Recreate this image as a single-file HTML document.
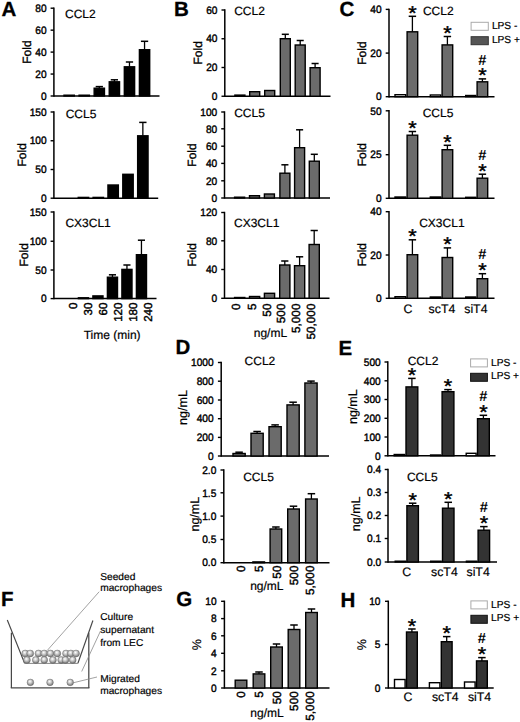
<!DOCTYPE html>
<html><head><meta charset="utf-8"><title>Figure</title>
<style>html,body{margin:0;padding:0;background:#fff;} body{width:520px;height:722px;overflow:hidden;font-family:"Liberation Sans", sans-serif;} svg{display:block;}</style>
</head><body>
<svg width="520" height="722" viewBox="0 0 520 722" font-family='"Liberation Sans", sans-serif' text-rendering="geometricPrecision"><defs><radialGradient id="sp" cx="0.45" cy="0.4" r="0.6" fx="0.42" fy="0.34"><stop offset="0" stop-color="#ffffff"/><stop offset="0.4" stop-color="#d0d0d0"/><stop offset="0.85" stop-color="#8a8a8a"/><stop offset="1" stop-color="#666"/></radialGradient></defs>
<text transform="translate(1.40 16.30)" font-size="20.5" text-anchor="start" font-weight="bold" fill="#000" stroke="#000" stroke-width="0.3">A</text>
<text transform="translate(174.10 16.30)" font-size="20.5" text-anchor="start" font-weight="bold" fill="#000" stroke="#000" stroke-width="0.3">B</text>
<text transform="translate(339.50 16.30)" font-size="20.5" text-anchor="start" font-weight="bold" fill="#000" stroke="#000" stroke-width="0.3">C</text>
<text transform="translate(175.50 353.80)" font-size="20.5" text-anchor="start" font-weight="bold" fill="#000" stroke="#000" stroke-width="0.3">D</text>
<text transform="translate(338.60 354.60)" font-size="20.5" text-anchor="start" font-weight="bold" fill="#000" stroke="#000" stroke-width="0.3">E</text>
<text transform="translate(0.90 605.80)" font-size="20.5" text-anchor="start" font-weight="bold" fill="#000" stroke="#000" stroke-width="0.3">F</text>
<text transform="translate(176.20 606.20)" font-size="20.5" text-anchor="start" font-weight="bold" fill="#000" stroke="#000" stroke-width="0.3">G</text>
<text transform="translate(340.60 607.00)" font-size="20.5" text-anchor="start" font-weight="bold" fill="#000" stroke="#000" stroke-width="0.3">H</text>
<line x1="53.90" y1="7.50" x2="53.90" y2="96.70" stroke="#000" stroke-width="1.5"/>
<line x1="50.60" y1="96.00" x2="53.90" y2="96.00" stroke="#000" stroke-width="1.4"/>
<text transform="translate(46.60 99.70) scale(0.94 1.0)" font-size="10.8" text-anchor="end" fill="#000" stroke="#000" stroke-width="0.4">0</text>
<line x1="50.60" y1="74.05" x2="53.90" y2="74.05" stroke="#000" stroke-width="1.4"/>
<text transform="translate(46.60 77.75) scale(0.94 1.0)" font-size="10.8" text-anchor="end" fill="#000" stroke="#000" stroke-width="0.4">20</text>
<line x1="50.60" y1="52.10" x2="53.90" y2="52.10" stroke="#000" stroke-width="1.4"/>
<text transform="translate(46.60 55.80) scale(0.94 1.0)" font-size="10.8" text-anchor="end" fill="#000" stroke="#000" stroke-width="0.4">40</text>
<line x1="50.60" y1="30.15" x2="53.90" y2="30.15" stroke="#000" stroke-width="1.4"/>
<text transform="translate(46.60 33.85) scale(0.94 1.0)" font-size="10.8" text-anchor="end" fill="#000" stroke="#000" stroke-width="0.4">60</text>
<line x1="50.60" y1="8.20" x2="53.90" y2="8.20" stroke="#000" stroke-width="1.4"/>
<text transform="translate(46.60 11.90) scale(0.94 1.0)" font-size="10.8" text-anchor="end" fill="#000" stroke="#000" stroke-width="0.4">80</text>
<line x1="53.90" y1="96.00" x2="159.50" y2="96.00" stroke="#000" stroke-width="1.5"/>
<rect x="64.00" y="95.20" width="10.30" height="0.80" fill="#000" stroke="#000" stroke-width="1.4"/>
<rect x="79.08" y="95.20" width="10.30" height="0.80" fill="#000" stroke="#000" stroke-width="1.4"/>
<line x1="99.31" y1="86.60" x2="99.31" y2="88.20" stroke="#000" stroke-width="1.3"/>
<line x1="95.68" y1="86.60" x2="102.94" y2="86.60" stroke="#000" stroke-width="1.5"/>
<rect x="94.16" y="88.20" width="10.30" height="7.80" fill="#000" stroke="#000" stroke-width="1.4"/>
<line x1="114.39" y1="79.80" x2="114.39" y2="81.80" stroke="#000" stroke-width="1.3"/>
<line x1="110.76" y1="79.80" x2="118.02" y2="79.80" stroke="#000" stroke-width="1.5"/>
<rect x="109.24" y="81.80" width="10.30" height="14.20" fill="#000" stroke="#000" stroke-width="1.4"/>
<line x1="129.47" y1="62.00" x2="129.47" y2="66.80" stroke="#000" stroke-width="1.3"/>
<line x1="125.84" y1="62.00" x2="133.10" y2="62.00" stroke="#000" stroke-width="1.5"/>
<rect x="124.32" y="66.80" width="10.30" height="29.20" fill="#000" stroke="#000" stroke-width="1.4"/>
<line x1="144.55" y1="41.30" x2="144.55" y2="49.70" stroke="#000" stroke-width="1.3"/>
<line x1="140.92" y1="41.30" x2="148.18" y2="41.30" stroke="#000" stroke-width="1.5"/>
<rect x="139.40" y="49.70" width="10.30" height="46.30" fill="#000" stroke="#000" stroke-width="1.4"/>
<text transform="translate(65.00 17.70)" font-size="12" text-anchor="start" fill="#000" stroke="#000" stroke-width="0.2">CCL2</text>
<text transform="translate(31.20 52.10) rotate(-90)" font-size="12" text-anchor="middle" fill="#000" stroke="#000" stroke-width="0.35">Fold</text>
<line x1="53.90" y1="111.30" x2="53.90" y2="198.90" stroke="#000" stroke-width="1.5"/>
<line x1="50.60" y1="198.20" x2="53.90" y2="198.20" stroke="#000" stroke-width="1.4"/>
<text transform="translate(46.60 201.90) scale(0.94 1.0)" font-size="10.8" text-anchor="end" fill="#000" stroke="#000" stroke-width="0.4">0</text>
<line x1="50.60" y1="169.50" x2="53.90" y2="169.50" stroke="#000" stroke-width="1.4"/>
<text transform="translate(46.60 173.20) scale(0.94 1.0)" font-size="10.8" text-anchor="end" fill="#000" stroke="#000" stroke-width="0.4">50</text>
<line x1="50.60" y1="140.75" x2="53.90" y2="140.75" stroke="#000" stroke-width="1.4"/>
<text transform="translate(46.60 144.45) scale(0.94 1.0)" font-size="10.8" text-anchor="end" fill="#000" stroke="#000" stroke-width="0.4">100</text>
<line x1="50.60" y1="112.00" x2="53.90" y2="112.00" stroke="#000" stroke-width="1.4"/>
<text transform="translate(46.60 115.70) scale(0.94 1.0)" font-size="10.8" text-anchor="end" fill="#000" stroke="#000" stroke-width="0.4">150</text>
<line x1="53.90" y1="198.20" x2="158.20" y2="198.20" stroke="#000" stroke-width="1.5"/>
<rect x="78.25" y="197.40" width="10.40" height="0.80" fill="#000" stroke="#000" stroke-width="1.4"/>
<rect x="93.10" y="197.40" width="10.40" height="0.80" fill="#000" stroke="#000" stroke-width="1.4"/>
<rect x="107.95" y="185.00" width="10.40" height="13.20" fill="#000" stroke="#000" stroke-width="1.4"/>
<rect x="122.80" y="174.30" width="10.40" height="23.90" fill="#000" stroke="#000" stroke-width="1.4"/>
<line x1="142.85" y1="122.40" x2="142.85" y2="135.80" stroke="#000" stroke-width="1.3"/>
<line x1="139.19" y1="122.40" x2="146.51" y2="122.40" stroke="#000" stroke-width="1.5"/>
<rect x="137.65" y="135.80" width="10.40" height="62.40" fill="#000" stroke="#000" stroke-width="1.4"/>
<text transform="translate(65.70 117.60)" font-size="12" text-anchor="start" fill="#000" stroke="#000" stroke-width="0.2">CCL5</text>
<text transform="translate(26.20 154.80) rotate(-90)" font-size="12" text-anchor="middle" fill="#000" stroke="#000" stroke-width="0.35">Fold</text>
<line x1="53.90" y1="211.30" x2="53.90" y2="299.30" stroke="#000" stroke-width="1.5"/>
<line x1="50.60" y1="298.60" x2="53.90" y2="298.60" stroke="#000" stroke-width="1.4"/>
<text transform="translate(46.60 302.30) scale(0.94 1.0)" font-size="10.8" text-anchor="end" fill="#000" stroke="#000" stroke-width="0.4">0</text>
<line x1="50.60" y1="270.00" x2="53.90" y2="270.00" stroke="#000" stroke-width="1.4"/>
<text transform="translate(46.60 273.70) scale(0.94 1.0)" font-size="10.8" text-anchor="end" fill="#000" stroke="#000" stroke-width="0.4">50</text>
<line x1="50.60" y1="241.25" x2="53.90" y2="241.25" stroke="#000" stroke-width="1.4"/>
<text transform="translate(46.60 244.95) scale(0.94 1.0)" font-size="10.8" text-anchor="end" fill="#000" stroke="#000" stroke-width="0.4">100</text>
<line x1="50.60" y1="212.00" x2="53.90" y2="212.00" stroke="#000" stroke-width="1.4"/>
<text transform="translate(46.60 215.70) scale(0.94 1.0)" font-size="10.8" text-anchor="end" fill="#000" stroke="#000" stroke-width="0.4">150</text>
<line x1="53.90" y1="298.60" x2="156.50" y2="298.60" stroke="#000" stroke-width="1.5"/>
<rect x="78.40" y="297.80" width="10.10" height="0.80" fill="#000" stroke="#000" stroke-width="1.4"/>
<rect x="92.90" y="295.90" width="10.10" height="2.70" fill="#000" stroke="#000" stroke-width="1.4"/>
<line x1="112.45" y1="274.80" x2="112.45" y2="277.20" stroke="#000" stroke-width="1.3"/>
<line x1="108.89" y1="274.80" x2="116.02" y2="274.80" stroke="#000" stroke-width="1.5"/>
<rect x="107.40" y="277.20" width="10.10" height="21.40" fill="#000" stroke="#000" stroke-width="1.4"/>
<line x1="126.95" y1="265.00" x2="126.95" y2="269.40" stroke="#000" stroke-width="1.3"/>
<line x1="123.38" y1="265.00" x2="130.51" y2="265.00" stroke="#000" stroke-width="1.5"/>
<rect x="121.90" y="269.40" width="10.10" height="29.20" fill="#000" stroke="#000" stroke-width="1.4"/>
<line x1="141.45" y1="240.20" x2="141.45" y2="254.70" stroke="#000" stroke-width="1.3"/>
<line x1="137.88" y1="240.20" x2="145.01" y2="240.20" stroke="#000" stroke-width="1.5"/>
<rect x="136.40" y="254.70" width="10.10" height="43.90" fill="#000" stroke="#000" stroke-width="1.4"/>
<text transform="translate(65.40 226.80)" font-size="12" text-anchor="start" fill="#000" stroke="#000" stroke-width="0.2">CX3CL1</text>
<text transform="translate(27.80 254.80) rotate(-90)" font-size="12" text-anchor="middle" fill="#000" stroke="#000" stroke-width="0.35">Fold</text>
<text transform="translate(77.28 302.60) rotate(-90)" font-size="11.5" text-anchor="end" fill="#000" stroke="#000" stroke-width="0.4">0</text>
<text transform="translate(92.18 302.60) rotate(-90)" font-size="11.5" text-anchor="end" fill="#000" stroke="#000" stroke-width="0.4">30</text>
<text transform="translate(107.08 302.60) rotate(-90)" font-size="11.5" text-anchor="end" fill="#000" stroke="#000" stroke-width="0.4">60</text>
<text transform="translate(121.98 302.60) rotate(-90)" font-size="11.5" text-anchor="end" fill="#000" stroke="#000" stroke-width="0.4">120</text>
<text transform="translate(136.88 302.60) rotate(-90)" font-size="11.5" text-anchor="end" fill="#000" stroke="#000" stroke-width="0.4">180</text>
<text transform="translate(151.78 302.60) rotate(-90)" font-size="11.5" text-anchor="end" fill="#000" stroke="#000" stroke-width="0.4">240</text>
<text transform="translate(112.10 338.50)" font-size="12" text-anchor="middle" fill="#000" stroke="#000" stroke-width="0.2">Time (min)</text>
<line x1="224.80" y1="9.30" x2="224.80" y2="96.95" stroke="#000" stroke-width="1.5"/>
<line x1="221.50" y1="96.25" x2="224.80" y2="96.25" stroke="#000" stroke-width="1.4"/>
<text transform="translate(217.50 99.95) scale(0.94 1.0)" font-size="10.8" text-anchor="end" fill="#000" stroke="#000" stroke-width="0.4">0</text>
<line x1="221.50" y1="67.50" x2="224.80" y2="67.50" stroke="#000" stroke-width="1.4"/>
<text transform="translate(217.50 71.20) scale(0.94 1.0)" font-size="10.8" text-anchor="end" fill="#000" stroke="#000" stroke-width="0.4">20</text>
<line x1="221.50" y1="38.75" x2="224.80" y2="38.75" stroke="#000" stroke-width="1.4"/>
<text transform="translate(217.50 42.45) scale(0.94 1.0)" font-size="10.8" text-anchor="end" fill="#000" stroke="#000" stroke-width="0.4">40</text>
<line x1="221.50" y1="10.00" x2="224.80" y2="10.00" stroke="#000" stroke-width="1.4"/>
<text transform="translate(217.50 13.70) scale(0.94 1.0)" font-size="10.8" text-anchor="end" fill="#000" stroke="#000" stroke-width="0.4">60</text>
<line x1="224.80" y1="96.25" x2="330.50" y2="96.25" stroke="#000" stroke-width="1.5"/>
<rect x="234.90" y="95.10" width="10.00" height="1.15" fill="#6b6b6b" stroke="#000" stroke-width="1.4"/>
<rect x="249.70" y="91.70" width="10.00" height="4.55" fill="#6b6b6b" stroke="#000" stroke-width="1.4"/>
<rect x="264.70" y="90.50" width="10.00" height="5.75" fill="#6b6b6b" stroke="#000" stroke-width="1.4"/>
<line x1="285.30" y1="34.30" x2="285.30" y2="38.70" stroke="#000" stroke-width="1.3"/>
<line x1="281.77" y1="34.30" x2="288.83" y2="34.30" stroke="#000" stroke-width="1.5"/>
<rect x="280.30" y="38.70" width="10.00" height="57.55" fill="#6b6b6b" stroke="#000" stroke-width="1.4"/>
<line x1="300.20" y1="40.50" x2="300.20" y2="45.00" stroke="#000" stroke-width="1.3"/>
<line x1="296.67" y1="40.50" x2="303.73" y2="40.50" stroke="#000" stroke-width="1.5"/>
<rect x="295.20" y="45.00" width="10.00" height="51.25" fill="#6b6b6b" stroke="#000" stroke-width="1.4"/>
<line x1="315.10" y1="63.50" x2="315.10" y2="67.70" stroke="#000" stroke-width="1.3"/>
<line x1="311.57" y1="63.50" x2="318.63" y2="63.50" stroke="#000" stroke-width="1.5"/>
<rect x="310.10" y="67.70" width="10.00" height="28.55" fill="#6b6b6b" stroke="#000" stroke-width="1.4"/>
<text transform="translate(234.20 15.00)" font-size="12" text-anchor="start" fill="#000" stroke="#000" stroke-width="0.2">CCL2</text>
<text transform="translate(202.20 52.85) rotate(-90)" font-size="12" text-anchor="middle" fill="#000" stroke="#000" stroke-width="0.35">Fold</text>
<line x1="224.50" y1="111.30" x2="224.50" y2="198.70" stroke="#000" stroke-width="1.5"/>
<line x1="221.20" y1="198.00" x2="224.50" y2="198.00" stroke="#000" stroke-width="1.4"/>
<text transform="translate(217.20 201.70) scale(0.94 1.0)" font-size="10.8" text-anchor="end" fill="#000" stroke="#000" stroke-width="0.4">0</text>
<line x1="221.20" y1="180.80" x2="224.50" y2="180.80" stroke="#000" stroke-width="1.4"/>
<text transform="translate(217.20 184.50) scale(0.94 1.0)" font-size="10.8" text-anchor="end" fill="#000" stroke="#000" stroke-width="0.4">20</text>
<line x1="221.20" y1="163.40" x2="224.50" y2="163.40" stroke="#000" stroke-width="1.4"/>
<text transform="translate(217.20 167.10) scale(0.94 1.0)" font-size="10.8" text-anchor="end" fill="#000" stroke="#000" stroke-width="0.4">40</text>
<line x1="221.20" y1="146.20" x2="224.50" y2="146.20" stroke="#000" stroke-width="1.4"/>
<text transform="translate(217.20 149.90) scale(0.94 1.0)" font-size="10.8" text-anchor="end" fill="#000" stroke="#000" stroke-width="0.4">60</text>
<line x1="221.20" y1="128.80" x2="224.50" y2="128.80" stroke="#000" stroke-width="1.4"/>
<text transform="translate(217.20 132.50) scale(0.94 1.0)" font-size="10.8" text-anchor="end" fill="#000" stroke="#000" stroke-width="0.4">80</text>
<line x1="221.20" y1="112.00" x2="224.50" y2="112.00" stroke="#000" stroke-width="1.4"/>
<text transform="translate(217.20 115.70) scale(0.94 1.0)" font-size="10.8" text-anchor="end" fill="#000" stroke="#000" stroke-width="0.4">100</text>
<line x1="224.50" y1="198.00" x2="330.00" y2="198.00" stroke="#000" stroke-width="1.5"/>
<rect x="234.60" y="197.20" width="10.00" height="0.80" fill="#6b6b6b" stroke="#000" stroke-width="1.4"/>
<rect x="249.50" y="195.70" width="10.00" height="2.30" fill="#6b6b6b" stroke="#000" stroke-width="1.4"/>
<rect x="264.40" y="194.00" width="10.00" height="4.00" fill="#6b6b6b" stroke="#000" stroke-width="1.4"/>
<line x1="284.90" y1="164.80" x2="284.90" y2="173.20" stroke="#000" stroke-width="1.3"/>
<line x1="281.37" y1="164.80" x2="288.43" y2="164.80" stroke="#000" stroke-width="1.5"/>
<rect x="279.90" y="173.20" width="10.00" height="24.80" fill="#6b6b6b" stroke="#000" stroke-width="1.4"/>
<line x1="299.60" y1="129.80" x2="299.60" y2="147.70" stroke="#000" stroke-width="1.3"/>
<line x1="296.07" y1="129.80" x2="303.13" y2="129.80" stroke="#000" stroke-width="1.5"/>
<rect x="294.60" y="147.70" width="10.00" height="50.30" fill="#6b6b6b" stroke="#000" stroke-width="1.4"/>
<line x1="314.30" y1="154.30" x2="314.30" y2="161.20" stroke="#000" stroke-width="1.3"/>
<line x1="310.77" y1="154.30" x2="317.83" y2="154.30" stroke="#000" stroke-width="1.5"/>
<rect x="309.30" y="161.20" width="10.00" height="36.80" fill="#6b6b6b" stroke="#000" stroke-width="1.4"/>
<text transform="translate(234.20 116.80)" font-size="12" text-anchor="start" fill="#000" stroke="#000" stroke-width="0.2">CCL5</text>
<text transform="translate(196.30 155.00) rotate(-90)" font-size="12" text-anchor="middle" fill="#000" stroke="#000" stroke-width="0.35">Fold</text>
<line x1="224.50" y1="211.80" x2="224.50" y2="299.00" stroke="#000" stroke-width="1.5"/>
<line x1="221.20" y1="298.30" x2="224.50" y2="298.30" stroke="#000" stroke-width="1.4"/>
<text transform="translate(217.20 302.00) scale(0.94 1.0)" font-size="10.8" text-anchor="end" fill="#000" stroke="#000" stroke-width="0.4">0</text>
<line x1="221.20" y1="269.50" x2="224.50" y2="269.50" stroke="#000" stroke-width="1.4"/>
<text transform="translate(217.20 273.20) scale(0.94 1.0)" font-size="10.8" text-anchor="end" fill="#000" stroke="#000" stroke-width="0.4">40</text>
<line x1="221.20" y1="240.80" x2="224.50" y2="240.80" stroke="#000" stroke-width="1.4"/>
<text transform="translate(217.20 244.50) scale(0.94 1.0)" font-size="10.8" text-anchor="end" fill="#000" stroke="#000" stroke-width="0.4">80</text>
<line x1="221.20" y1="212.50" x2="224.50" y2="212.50" stroke="#000" stroke-width="1.4"/>
<text transform="translate(217.20 216.20) scale(0.94 1.0)" font-size="10.8" text-anchor="end" fill="#000" stroke="#000" stroke-width="0.4">120</text>
<line x1="224.50" y1="298.30" x2="329.50" y2="298.30" stroke="#000" stroke-width="1.5"/>
<rect x="234.60" y="297.50" width="10.20" height="0.80" fill="#6b6b6b" stroke="#000" stroke-width="1.4"/>
<rect x="249.50" y="296.50" width="10.20" height="1.80" fill="#6b6b6b" stroke="#000" stroke-width="1.4"/>
<rect x="264.40" y="293.30" width="10.20" height="5.00" fill="#6b6b6b" stroke="#000" stroke-width="1.4"/>
<line x1="284.80" y1="261.00" x2="284.80" y2="265.00" stroke="#000" stroke-width="1.3"/>
<line x1="281.20" y1="261.00" x2="288.40" y2="261.00" stroke="#000" stroke-width="1.5"/>
<rect x="279.70" y="265.00" width="10.20" height="33.30" fill="#6b6b6b" stroke="#000" stroke-width="1.4"/>
<line x1="299.60" y1="256.80" x2="299.60" y2="265.70" stroke="#000" stroke-width="1.3"/>
<line x1="296.00" y1="256.80" x2="303.20" y2="256.80" stroke="#000" stroke-width="1.5"/>
<rect x="294.50" y="265.70" width="10.20" height="32.60" fill="#6b6b6b" stroke="#000" stroke-width="1.4"/>
<line x1="314.20" y1="230.50" x2="314.20" y2="244.50" stroke="#000" stroke-width="1.3"/>
<line x1="310.60" y1="230.50" x2="317.80" y2="230.50" stroke="#000" stroke-width="1.5"/>
<rect x="309.10" y="244.50" width="10.20" height="53.80" fill="#6b6b6b" stroke="#000" stroke-width="1.4"/>
<text transform="translate(234.00 226.80)" font-size="12" text-anchor="start" fill="#000" stroke="#000" stroke-width="0.2">CX3CL1</text>
<text transform="translate(196.30 254.85) rotate(-90)" font-size="12" text-anchor="middle" fill="#000" stroke="#000" stroke-width="0.35">Fold</text>
<text transform="translate(240.43 303.50) rotate(-90)" font-size="11.8" text-anchor="end" fill="#000" stroke="#000" stroke-width="0.4">0</text>
<text transform="translate(255.73 303.50) rotate(-90)" font-size="11.8" text-anchor="end" fill="#000" stroke="#000" stroke-width="0.4">5</text>
<text transform="translate(270.63 303.50) rotate(-90)" font-size="11.8" text-anchor="end" fill="#000" stroke="#000" stroke-width="0.4">50</text>
<text transform="translate(285.33 303.50) rotate(-90)" font-size="11.8" text-anchor="end" fill="#000" stroke="#000" stroke-width="0.4">500</text>
<text transform="translate(300.33 303.50) rotate(-90)" font-size="11.8" text-anchor="end" fill="#000" stroke="#000" stroke-width="0.4">5,000</text>
<text transform="translate(315.43 303.50) rotate(-90)" font-size="11.8" text-anchor="end" fill="#000" stroke="#000" stroke-width="0.4">50,000</text>
<text transform="translate(270.40 336.50)" font-size="12" text-anchor="middle" fill="#000" stroke="#000" stroke-width="0.2">ng/mL</text>
<line x1="389.00" y1="8.70" x2="389.00" y2="97.40" stroke="#000" stroke-width="1.5"/>
<line x1="385.70" y1="96.70" x2="389.00" y2="96.70" stroke="#000" stroke-width="1.4"/>
<text transform="translate(381.55 100.40) scale(0.94 1.0)" font-size="10.8" text-anchor="end" fill="#000" stroke="#000" stroke-width="0.4">0</text>
<line x1="385.70" y1="53.10" x2="389.00" y2="53.10" stroke="#000" stroke-width="1.4"/>
<text transform="translate(381.55 56.80) scale(0.94 1.0)" font-size="10.8" text-anchor="end" fill="#000" stroke="#000" stroke-width="0.4">20</text>
<line x1="385.70" y1="9.40" x2="389.00" y2="9.40" stroke="#000" stroke-width="1.4"/>
<text transform="translate(381.55 13.10) scale(0.94 1.0)" font-size="10.8" text-anchor="end" fill="#000" stroke="#000" stroke-width="0.4">40</text>
<line x1="389.00" y1="96.70" x2="494.50" y2="96.70" stroke="#000" stroke-width="1.5"/>
<rect x="395.00" y="94.70" width="10.70" height="2.00" fill="#fff" stroke="#000" stroke-width="1.4"/>
<line x1="412.40" y1="16.30" x2="412.40" y2="31.80" stroke="#000" stroke-width="1.3"/>
<line x1="408.68" y1="16.30" x2="416.12" y2="16.30" stroke="#000" stroke-width="1.5"/>
<rect x="407.10" y="31.80" width="10.60" height="64.90" fill="#6b6b6b" stroke="#000" stroke-width="1.4"/>
<text transform="translate(412.40 19.80) scale(1.08 1.0)" font-size="20" text-anchor="middle" fill="#000" stroke="#000" stroke-width="0.4">*</text>
<rect x="430.30" y="95.00" width="10.40" height="1.70" fill="#fff" stroke="#000" stroke-width="1.4"/>
<line x1="447.40" y1="36.50" x2="447.40" y2="44.90" stroke="#000" stroke-width="1.3"/>
<line x1="443.68" y1="36.50" x2="451.12" y2="36.50" stroke="#000" stroke-width="1.5"/>
<rect x="442.10" y="44.90" width="10.60" height="51.80" fill="#6b6b6b" stroke="#000" stroke-width="1.4"/>
<text transform="translate(447.40 40.00) scale(1.08 1.0)" font-size="20" text-anchor="middle" fill="#000" stroke="#000" stroke-width="0.4">*</text>
<rect x="465.70" y="95.50" width="10.00" height="1.20" fill="#fff" stroke="#000" stroke-width="1.4"/>
<line x1="482.40" y1="78.90" x2="482.40" y2="81.80" stroke="#000" stroke-width="1.3"/>
<line x1="478.68" y1="78.90" x2="486.12" y2="78.90" stroke="#000" stroke-width="1.5"/>
<rect x="477.10" y="81.80" width="10.60" height="14.90" fill="#6b6b6b" stroke="#000" stroke-width="1.4"/>
<text transform="translate(482.40 82.40) scale(1.08 1.0)" font-size="20" text-anchor="middle" fill="#000" stroke="#000" stroke-width="0.4">*</text>
<text transform="translate(482.30 64.60)" font-size="14.6" text-anchor="middle" font-weight="bold" fill="#000">#</text>
<text transform="translate(422.90 15.00)" font-size="12" text-anchor="start" fill="#000" stroke="#000" stroke-width="0.2">CCL2</text>
<text transform="translate(365.90 53.10) rotate(-90)" font-size="12" text-anchor="middle" fill="#000" stroke="#000" stroke-width="0.35">Fold</text>
<rect x="471.10" y="22.30" width="17.20" height="8.00" fill="#fff" stroke="#aaa" stroke-width="1.0"/>
<rect x="471.10" y="36.70" width="17.20" height="8.00" fill="#555" stroke="#333" stroke-width="1.0"/>
<text transform="translate(491.90 29.40)" font-size="10.2" text-anchor="start" fill="#000" stroke="#000" stroke-width="0.2">LPS -</text>
<text transform="translate(491.90 42.80)" font-size="10.2" text-anchor="start" fill="#000" stroke="#000" stroke-width="0.2">LPS +</text>
<line x1="389.00" y1="110.10" x2="389.00" y2="199.00" stroke="#000" stroke-width="1.5"/>
<line x1="385.70" y1="198.30" x2="389.00" y2="198.30" stroke="#000" stroke-width="1.4"/>
<text transform="translate(381.55 202.00) scale(0.94 1.0)" font-size="10.8" text-anchor="end" fill="#000" stroke="#000" stroke-width="0.4">0</text>
<line x1="385.70" y1="154.70" x2="389.00" y2="154.70" stroke="#000" stroke-width="1.4"/>
<text transform="translate(381.55 158.40) scale(0.94 1.0)" font-size="10.8" text-anchor="end" fill="#000" stroke="#000" stroke-width="0.4">25</text>
<line x1="385.70" y1="110.80" x2="389.00" y2="110.80" stroke="#000" stroke-width="1.4"/>
<text transform="translate(381.55 114.50) scale(0.94 1.0)" font-size="10.8" text-anchor="end" fill="#000" stroke="#000" stroke-width="0.4">50</text>
<line x1="389.00" y1="198.30" x2="494.50" y2="198.30" stroke="#000" stroke-width="1.5"/>
<rect x="395.00" y="197.00" width="10.70" height="1.30" fill="#fff" stroke="#000" stroke-width="1.4"/>
<line x1="412.40" y1="131.50" x2="412.40" y2="135.20" stroke="#000" stroke-width="1.3"/>
<line x1="408.68" y1="131.50" x2="416.12" y2="131.50" stroke="#000" stroke-width="1.5"/>
<rect x="407.10" y="135.20" width="10.60" height="63.10" fill="#6b6b6b" stroke="#000" stroke-width="1.4"/>
<text transform="translate(412.40 135.00) scale(1.08 1.0)" font-size="20" text-anchor="middle" fill="#000" stroke="#000" stroke-width="0.4">*</text>
<rect x="430.30" y="197.00" width="10.40" height="1.30" fill="#fff" stroke="#000" stroke-width="1.4"/>
<line x1="447.40" y1="145.30" x2="447.40" y2="149.70" stroke="#000" stroke-width="1.3"/>
<line x1="443.68" y1="145.30" x2="451.12" y2="145.30" stroke="#000" stroke-width="1.5"/>
<rect x="442.10" y="149.70" width="10.60" height="48.60" fill="#6b6b6b" stroke="#000" stroke-width="1.4"/>
<text transform="translate(447.40 148.80) scale(1.08 1.0)" font-size="20" text-anchor="middle" fill="#000" stroke="#000" stroke-width="0.4">*</text>
<rect x="465.70" y="197.30" width="10.00" height="1.00" fill="#fff" stroke="#000" stroke-width="1.4"/>
<line x1="482.40" y1="174.20" x2="482.40" y2="178.20" stroke="#000" stroke-width="1.3"/>
<line x1="478.68" y1="174.20" x2="486.12" y2="174.20" stroke="#000" stroke-width="1.5"/>
<rect x="477.10" y="178.20" width="10.60" height="20.10" fill="#6b6b6b" stroke="#000" stroke-width="1.4"/>
<text transform="translate(482.40 177.70) scale(1.08 1.0)" font-size="20" text-anchor="middle" fill="#000" stroke="#000" stroke-width="0.4">*</text>
<text transform="translate(482.30 159.90)" font-size="14.6" text-anchor="middle" font-weight="bold" fill="#000">#</text>
<text transform="translate(422.70 117.40)" font-size="12" text-anchor="start" fill="#000" stroke="#000" stroke-width="0.2">CCL5</text>
<text transform="translate(365.90 154.70) rotate(-90)" font-size="12" text-anchor="middle" fill="#000" stroke="#000" stroke-width="0.35">Fold</text>
<line x1="389.00" y1="211.00" x2="389.00" y2="299.00" stroke="#000" stroke-width="1.5"/>
<line x1="385.70" y1="298.30" x2="389.00" y2="298.30" stroke="#000" stroke-width="1.4"/>
<text transform="translate(381.55 302.00) scale(0.94 1.0)" font-size="10.8" text-anchor="end" fill="#000" stroke="#000" stroke-width="0.4">0</text>
<line x1="385.70" y1="255.00" x2="389.00" y2="255.00" stroke="#000" stroke-width="1.4"/>
<text transform="translate(381.55 258.70) scale(0.94 1.0)" font-size="10.8" text-anchor="end" fill="#000" stroke="#000" stroke-width="0.4">20</text>
<line x1="385.70" y1="211.70" x2="389.00" y2="211.70" stroke="#000" stroke-width="1.4"/>
<text transform="translate(381.55 215.40) scale(0.94 1.0)" font-size="10.8" text-anchor="end" fill="#000" stroke="#000" stroke-width="0.4">40</text>
<line x1="389.00" y1="298.30" x2="494.50" y2="298.30" stroke="#000" stroke-width="1.5"/>
<rect x="395.00" y="296.70" width="10.70" height="1.60" fill="#fff" stroke="#000" stroke-width="1.4"/>
<line x1="412.40" y1="239.80" x2="412.40" y2="254.70" stroke="#000" stroke-width="1.3"/>
<line x1="408.68" y1="239.80" x2="416.12" y2="239.80" stroke="#000" stroke-width="1.5"/>
<rect x="407.10" y="254.70" width="10.60" height="43.60" fill="#6b6b6b" stroke="#000" stroke-width="1.4"/>
<text transform="translate(412.40 243.30) scale(1.08 1.0)" font-size="20" text-anchor="middle" fill="#000" stroke="#000" stroke-width="0.4">*</text>
<rect x="430.30" y="297.00" width="10.40" height="1.30" fill="#fff" stroke="#000" stroke-width="1.4"/>
<line x1="447.40" y1="247.90" x2="447.40" y2="257.50" stroke="#000" stroke-width="1.3"/>
<line x1="443.68" y1="247.90" x2="451.12" y2="247.90" stroke="#000" stroke-width="1.5"/>
<rect x="442.10" y="257.50" width="10.60" height="40.80" fill="#6b6b6b" stroke="#000" stroke-width="1.4"/>
<text transform="translate(447.40 251.40) scale(1.08 1.0)" font-size="20" text-anchor="middle" fill="#000" stroke="#000" stroke-width="0.4">*</text>
<rect x="465.70" y="297.00" width="10.00" height="1.30" fill="#fff" stroke="#000" stroke-width="1.4"/>
<line x1="482.40" y1="273.70" x2="482.40" y2="278.70" stroke="#000" stroke-width="1.3"/>
<line x1="478.68" y1="273.70" x2="486.12" y2="273.70" stroke="#000" stroke-width="1.5"/>
<rect x="477.10" y="278.70" width="10.60" height="19.60" fill="#6b6b6b" stroke="#000" stroke-width="1.4"/>
<text transform="translate(482.40 277.20) scale(1.08 1.0)" font-size="20" text-anchor="middle" fill="#000" stroke="#000" stroke-width="0.4">*</text>
<text transform="translate(482.30 259.40)" font-size="14.6" text-anchor="middle" font-weight="bold" fill="#000">#</text>
<text transform="translate(419.20 226.80)" font-size="12" text-anchor="start" fill="#000" stroke="#000" stroke-width="0.2">CX3CL1</text>
<text transform="translate(365.90 254.70) rotate(-90)" font-size="12" text-anchor="middle" fill="#000" stroke="#000" stroke-width="0.35">Fold</text>
<text transform="translate(408.00 312.80)" font-size="12.3" text-anchor="middle" fill="#000" stroke="#000" stroke-width="0.2">C</text>
<text transform="translate(441.95 312.80)" font-size="12.3" text-anchor="middle" fill="#000" stroke="#000" stroke-width="0.2">scT4</text>
<text transform="translate(475.85 312.80)" font-size="12.3" text-anchor="middle" fill="#000" stroke="#000" stroke-width="0.2">siT4</text>
<line x1="221.20" y1="361.80" x2="221.20" y2="456.70" stroke="#000" stroke-width="1.5"/>
<line x1="217.90" y1="456.00" x2="221.20" y2="456.00" stroke="#000" stroke-width="1.4"/>
<text transform="translate(213.60 459.70) scale(0.94 1.0)" font-size="10.8" text-anchor="end" fill="#000" stroke="#000" stroke-width="0.4">0</text>
<line x1="217.90" y1="437.40" x2="221.20" y2="437.40" stroke="#000" stroke-width="1.4"/>
<text transform="translate(213.60 441.10) scale(0.94 1.0)" font-size="10.8" text-anchor="end" fill="#000" stroke="#000" stroke-width="0.4">200</text>
<line x1="217.90" y1="418.70" x2="221.20" y2="418.70" stroke="#000" stroke-width="1.4"/>
<text transform="translate(213.60 422.40) scale(0.94 1.0)" font-size="10.8" text-anchor="end" fill="#000" stroke="#000" stroke-width="0.4">400</text>
<line x1="217.90" y1="400.00" x2="221.20" y2="400.00" stroke="#000" stroke-width="1.4"/>
<text transform="translate(213.60 403.70) scale(0.94 1.0)" font-size="10.8" text-anchor="end" fill="#000" stroke="#000" stroke-width="0.4">600</text>
<line x1="217.90" y1="381.20" x2="221.20" y2="381.20" stroke="#000" stroke-width="1.4"/>
<text transform="translate(213.60 384.90) scale(0.94 1.0)" font-size="10.8" text-anchor="end" fill="#000" stroke="#000" stroke-width="0.4">800</text>
<line x1="217.90" y1="362.50" x2="221.20" y2="362.50" stroke="#000" stroke-width="1.4"/>
<text transform="translate(213.60 366.20) scale(0.94 1.0)" font-size="10.8" text-anchor="end" fill="#000" stroke="#000" stroke-width="0.4">1000</text>
<line x1="221.20" y1="456.00" x2="329.00" y2="456.00" stroke="#000" stroke-width="1.5"/>
<line x1="239.10" y1="452.20" x2="239.10" y2="453.50" stroke="#000" stroke-width="1.3"/>
<line x1="235.35" y1="452.20" x2="242.85" y2="452.20" stroke="#000" stroke-width="1.5"/>
<rect x="233.00" y="453.50" width="12.20" height="2.50" fill="#6b6b6b" stroke="#000" stroke-width="1.4"/>
<line x1="257.10" y1="431.50" x2="257.10" y2="433.30" stroke="#000" stroke-width="1.3"/>
<line x1="253.35" y1="431.50" x2="260.85" y2="431.50" stroke="#000" stroke-width="1.5"/>
<rect x="251.00" y="433.30" width="12.20" height="22.70" fill="#6b6b6b" stroke="#000" stroke-width="1.4"/>
<line x1="275.10" y1="424.90" x2="275.10" y2="426.70" stroke="#000" stroke-width="1.3"/>
<line x1="271.35" y1="424.90" x2="278.85" y2="424.90" stroke="#000" stroke-width="1.5"/>
<rect x="269.00" y="426.70" width="12.20" height="29.30" fill="#6b6b6b" stroke="#000" stroke-width="1.4"/>
<line x1="293.10" y1="402.20" x2="293.10" y2="404.90" stroke="#000" stroke-width="1.3"/>
<line x1="289.35" y1="402.20" x2="296.85" y2="402.20" stroke="#000" stroke-width="1.5"/>
<rect x="287.00" y="404.90" width="12.20" height="51.10" fill="#6b6b6b" stroke="#000" stroke-width="1.4"/>
<line x1="311.00" y1="381.10" x2="311.00" y2="383.00" stroke="#000" stroke-width="1.3"/>
<line x1="307.25" y1="381.10" x2="314.75" y2="381.10" stroke="#000" stroke-width="1.5"/>
<rect x="304.90" y="383.00" width="12.20" height="73.00" fill="#6b6b6b" stroke="#000" stroke-width="1.4"/>
<text transform="translate(244.60 364.80)" font-size="12" text-anchor="start" fill="#000" stroke="#000" stroke-width="0.2">CCL2</text>
<text transform="translate(187.30 407.50) rotate(-90)" font-size="12.5" text-anchor="middle" fill="#000" stroke="#000" stroke-width="0.2">ng/mL</text>
<line x1="223.80" y1="469.30" x2="223.80" y2="563.40" stroke="#000" stroke-width="1.5"/>
<line x1="220.50" y1="562.70" x2="223.80" y2="562.70" stroke="#000" stroke-width="1.4"/>
<text transform="translate(216.30 566.40) scale(0.94 1.0)" font-size="10.8" text-anchor="end" fill="#000" stroke="#000" stroke-width="0.4">0.0</text>
<line x1="220.50" y1="539.50" x2="223.80" y2="539.50" stroke="#000" stroke-width="1.4"/>
<text transform="translate(216.30 543.20) scale(0.94 1.0)" font-size="10.8" text-anchor="end" fill="#000" stroke="#000" stroke-width="0.4">0.5</text>
<line x1="220.50" y1="516.10" x2="223.80" y2="516.10" stroke="#000" stroke-width="1.4"/>
<text transform="translate(216.30 519.80) scale(0.94 1.0)" font-size="10.8" text-anchor="end" fill="#000" stroke="#000" stroke-width="0.4">1.0</text>
<line x1="220.50" y1="492.80" x2="223.80" y2="492.80" stroke="#000" stroke-width="1.4"/>
<text transform="translate(216.30 496.50) scale(0.94 1.0)" font-size="10.8" text-anchor="end" fill="#000" stroke="#000" stroke-width="0.4">1.5</text>
<line x1="220.50" y1="470.00" x2="223.80" y2="470.00" stroke="#000" stroke-width="1.4"/>
<text transform="translate(216.30 473.70) scale(0.94 1.0)" font-size="10.8" text-anchor="end" fill="#000" stroke="#000" stroke-width="0.4">2.0</text>
<line x1="223.80" y1="562.70" x2="329.50" y2="562.70" stroke="#000" stroke-width="1.5"/>
<rect x="252.90" y="561.90" width="11.60" height="0.80" fill="#6b6b6b" stroke="#000" stroke-width="1.4"/>
<line x1="275.90" y1="527.00" x2="275.90" y2="529.00" stroke="#000" stroke-width="1.3"/>
<line x1="272.15" y1="527.00" x2="279.65" y2="527.00" stroke="#000" stroke-width="1.5"/>
<rect x="270.10" y="529.00" width="11.60" height="33.70" fill="#6b6b6b" stroke="#000" stroke-width="1.4"/>
<line x1="293.50" y1="506.20" x2="293.50" y2="509.00" stroke="#000" stroke-width="1.3"/>
<line x1="289.75" y1="506.20" x2="297.25" y2="506.20" stroke="#000" stroke-width="1.5"/>
<rect x="287.70" y="509.00" width="11.60" height="53.70" fill="#6b6b6b" stroke="#000" stroke-width="1.4"/>
<line x1="311.40" y1="493.70" x2="311.40" y2="499.00" stroke="#000" stroke-width="1.3"/>
<line x1="307.65" y1="493.70" x2="315.15" y2="493.70" stroke="#000" stroke-width="1.5"/>
<rect x="305.60" y="499.00" width="11.60" height="63.70" fill="#6b6b6b" stroke="#000" stroke-width="1.4"/>
<text transform="translate(243.20 480.80)" font-size="12" text-anchor="start" fill="#000" stroke="#000" stroke-width="0.2">CCL5</text>
<text transform="translate(198.60 514.20) rotate(-90)" font-size="12.5" text-anchor="middle" fill="#000" stroke="#000" stroke-width="0.2">ng/mL</text>
<text transform="translate(244.53 565.50) rotate(-90)" font-size="11.8" text-anchor="end" fill="#000" stroke="#000" stroke-width="0.4">0</text>
<text transform="translate(263.23 565.50) rotate(-90)" font-size="11.8" text-anchor="end" fill="#000" stroke="#000" stroke-width="0.4">5</text>
<text transform="translate(281.13 565.50) rotate(-90)" font-size="11.8" text-anchor="end" fill="#000" stroke="#000" stroke-width="0.4">50</text>
<text transform="translate(297.73 565.50) rotate(-90)" font-size="11.8" text-anchor="end" fill="#000" stroke="#000" stroke-width="0.4">500</text>
<text transform="translate(314.43 565.50) rotate(-90)" font-size="11.8" text-anchor="end" fill="#000" stroke="#000" stroke-width="0.4">5,000</text>
<text transform="translate(266.80 590.40)" font-size="12" text-anchor="middle" fill="#000" stroke="#000" stroke-width="0.2">ng/mL</text>
<line x1="387.80" y1="361.30" x2="387.80" y2="456.50" stroke="#000" stroke-width="1.5"/>
<line x1="384.50" y1="455.80" x2="387.80" y2="455.80" stroke="#000" stroke-width="1.4"/>
<text transform="translate(380.70 459.50) scale(0.94 1.0)" font-size="10.8" text-anchor="end" fill="#000" stroke="#000" stroke-width="0.4">0</text>
<line x1="384.50" y1="437.00" x2="387.80" y2="437.00" stroke="#000" stroke-width="1.4"/>
<text transform="translate(380.70 440.70) scale(0.94 1.0)" font-size="10.8" text-anchor="end" fill="#000" stroke="#000" stroke-width="0.4">100</text>
<line x1="384.50" y1="418.30" x2="387.80" y2="418.30" stroke="#000" stroke-width="1.4"/>
<text transform="translate(380.70 422.00) scale(0.94 1.0)" font-size="10.8" text-anchor="end" fill="#000" stroke="#000" stroke-width="0.4">200</text>
<line x1="384.50" y1="399.50" x2="387.80" y2="399.50" stroke="#000" stroke-width="1.4"/>
<text transform="translate(380.70 403.20) scale(0.94 1.0)" font-size="10.8" text-anchor="end" fill="#000" stroke="#000" stroke-width="0.4">300</text>
<line x1="384.50" y1="380.80" x2="387.80" y2="380.80" stroke="#000" stroke-width="1.4"/>
<text transform="translate(380.70 384.50) scale(0.94 1.0)" font-size="10.8" text-anchor="end" fill="#000" stroke="#000" stroke-width="0.4">400</text>
<line x1="384.50" y1="362.00" x2="387.80" y2="362.00" stroke="#000" stroke-width="1.4"/>
<text transform="translate(380.70 365.70) scale(0.94 1.0)" font-size="10.8" text-anchor="end" fill="#000" stroke="#000" stroke-width="0.4">500</text>
<line x1="387.80" y1="455.80" x2="495.50" y2="455.80" stroke="#000" stroke-width="1.5"/>
<rect x="394.20" y="454.50" width="10.40" height="1.30" fill="#fff" stroke="#000" stroke-width="1.4"/>
<line x1="411.90" y1="378.40" x2="411.90" y2="386.90" stroke="#000" stroke-width="1.3"/>
<line x1="408.15" y1="378.40" x2="415.65" y2="378.40" stroke="#000" stroke-width="1.5"/>
<rect x="406.00" y="386.90" width="11.80" height="68.90" fill="#333" stroke="#000" stroke-width="1.4"/>
<text transform="translate(411.90 381.90) scale(1.08 1.0)" font-size="20" text-anchor="middle" fill="#000" stroke="#000" stroke-width="0.4">*</text>
<rect x="430.60" y="455.00" width="10.10" height="0.80" fill="#fff" stroke="#000" stroke-width="1.4"/>
<line x1="448.00" y1="389.60" x2="448.00" y2="391.70" stroke="#000" stroke-width="1.3"/>
<line x1="444.25" y1="389.60" x2="451.75" y2="389.60" stroke="#000" stroke-width="1.5"/>
<rect x="442.10" y="391.70" width="11.80" height="64.10" fill="#333" stroke="#000" stroke-width="1.4"/>
<text transform="translate(448.00 393.10) scale(1.08 1.0)" font-size="20" text-anchor="middle" fill="#000" stroke="#000" stroke-width="0.4">*</text>
<rect x="466.20" y="453.30" width="9.90" height="2.50" fill="#fff" stroke="#000" stroke-width="1.4"/>
<line x1="483.40" y1="415.30" x2="483.40" y2="418.70" stroke="#000" stroke-width="1.3"/>
<line x1="479.65" y1="415.30" x2="487.15" y2="415.30" stroke="#000" stroke-width="1.5"/>
<rect x="477.50" y="418.70" width="11.80" height="37.10" fill="#333" stroke="#000" stroke-width="1.4"/>
<text transform="translate(483.40 418.80) scale(1.08 1.0)" font-size="20" text-anchor="middle" fill="#000" stroke="#000" stroke-width="0.4">*</text>
<text transform="translate(483.30 401.00)" font-size="14.6" text-anchor="middle" font-weight="bold" fill="#000">#</text>
<text transform="translate(407.70 364.60)" font-size="12" text-anchor="start" fill="#000" stroke="#000" stroke-width="0.2">CCL2</text>
<text transform="translate(357.30 406.70) rotate(-90)" font-size="12.5" text-anchor="middle" fill="#000" stroke="#000" stroke-width="0.2">ng/mL</text>
<rect x="470.60" y="358.90" width="16.80" height="8.00" fill="#fff" stroke="#aaa" stroke-width="1.0"/>
<rect x="470.60" y="373.30" width="16.80" height="8.00" fill="#333" stroke="#111" stroke-width="1.0"/>
<text transform="translate(491.00 366.00)" font-size="10.2" text-anchor="start" fill="#000" stroke="#000" stroke-width="0.2">LPS -</text>
<text transform="translate(491.00 379.40)" font-size="10.2" text-anchor="start" fill="#000" stroke="#000" stroke-width="0.2">LPS +</text>
<line x1="388.00" y1="468.80" x2="388.00" y2="562.70" stroke="#000" stroke-width="1.5"/>
<line x1="384.70" y1="562.00" x2="388.00" y2="562.00" stroke="#000" stroke-width="1.4"/>
<text transform="translate(381.20 565.70) scale(0.94 1.0)" font-size="10.8" text-anchor="end" fill="#000" stroke="#000" stroke-width="0.4">0.0</text>
<line x1="384.70" y1="538.50" x2="388.00" y2="538.50" stroke="#000" stroke-width="1.4"/>
<text transform="translate(381.20 542.20) scale(0.94 1.0)" font-size="10.8" text-anchor="end" fill="#000" stroke="#000" stroke-width="0.4">0.1</text>
<line x1="384.70" y1="515.50" x2="388.00" y2="515.50" stroke="#000" stroke-width="1.4"/>
<text transform="translate(381.20 519.20) scale(0.94 1.0)" font-size="10.8" text-anchor="end" fill="#000" stroke="#000" stroke-width="0.4">0.2</text>
<line x1="384.70" y1="492.50" x2="388.00" y2="492.50" stroke="#000" stroke-width="1.4"/>
<text transform="translate(381.20 496.20) scale(0.94 1.0)" font-size="10.8" text-anchor="end" fill="#000" stroke="#000" stroke-width="0.4">0.3</text>
<line x1="384.70" y1="469.50" x2="388.00" y2="469.50" stroke="#000" stroke-width="1.4"/>
<text transform="translate(381.20 473.20) scale(0.94 1.0)" font-size="10.8" text-anchor="end" fill="#000" stroke="#000" stroke-width="0.4">0.4</text>
<line x1="388.00" y1="562.00" x2="497.00" y2="562.00" stroke="#000" stroke-width="1.5"/>
<rect x="395.20" y="561.20" width="10.30" height="0.80" fill="#fff" stroke="#000" stroke-width="1.4"/>
<line x1="412.65" y1="503.20" x2="412.65" y2="505.70" stroke="#000" stroke-width="1.3"/>
<line x1="408.90" y1="503.20" x2="416.40" y2="503.20" stroke="#000" stroke-width="1.5"/>
<rect x="406.90" y="505.70" width="11.50" height="56.30" fill="#333" stroke="#000" stroke-width="1.4"/>
<text transform="translate(412.65 506.70) scale(1.08 1.0)" font-size="20" text-anchor="middle" fill="#000" stroke="#000" stroke-width="0.4">*</text>
<rect x="430.70" y="561.20" width="10.40" height="0.80" fill="#fff" stroke="#000" stroke-width="1.4"/>
<line x1="448.25" y1="502.30" x2="448.25" y2="508.20" stroke="#000" stroke-width="1.3"/>
<line x1="444.50" y1="502.30" x2="452.00" y2="502.30" stroke="#000" stroke-width="1.5"/>
<rect x="442.50" y="508.20" width="11.50" height="53.80" fill="#333" stroke="#000" stroke-width="1.4"/>
<text transform="translate(448.25 505.80) scale(1.08 1.0)" font-size="20" text-anchor="middle" fill="#000" stroke="#000" stroke-width="0.4">*</text>
<rect x="466.40" y="561.20" width="10.30" height="0.80" fill="#fff" stroke="#000" stroke-width="1.4"/>
<line x1="483.85" y1="526.60" x2="483.85" y2="530.20" stroke="#000" stroke-width="1.3"/>
<line x1="480.10" y1="526.60" x2="487.60" y2="526.60" stroke="#000" stroke-width="1.5"/>
<rect x="478.10" y="530.20" width="11.50" height="31.80" fill="#333" stroke="#000" stroke-width="1.4"/>
<text transform="translate(483.85 530.10) scale(1.08 1.0)" font-size="20" text-anchor="middle" fill="#000" stroke="#000" stroke-width="0.4">*</text>
<text transform="translate(483.75 512.30)" font-size="14.6" text-anchor="middle" font-weight="bold" fill="#000">#</text>
<text transform="translate(406.90 481.00)" font-size="12" text-anchor="start" fill="#000" stroke="#000" stroke-width="0.2">CCL5</text>
<text transform="translate(360.40 513.80) rotate(-90)" font-size="12.5" text-anchor="middle" fill="#000" stroke="#000" stroke-width="0.2">ng/mL</text>
<text transform="translate(406.75 575.50)" font-size="12.3" text-anchor="middle" fill="#000" stroke="#000" stroke-width="0.2">C</text>
<text transform="translate(444.40 575.50)" font-size="12.3" text-anchor="middle" fill="#000" stroke="#000" stroke-width="0.2">scT4</text>
<text transform="translate(478.10 575.50)" font-size="12.3" text-anchor="middle" fill="#000" stroke="#000" stroke-width="0.2">siT4</text>
<line x1="11.40" y1="632.70" x2="11.40" y2="688.00" stroke="#484848" stroke-width="1.25"/>
<line x1="88.80" y1="632.70" x2="88.80" y2="688.00" stroke="#484848" stroke-width="1.25"/>
<line x1="10.80" y1="687.80" x2="89.40" y2="687.80" stroke="#484848" stroke-width="1.3"/>
<line x1="7.30" y1="620.00" x2="24.60" y2="663.20" stroke="#484848" stroke-width="1.15"/>
<line x1="77.90" y1="663.20" x2="92.90" y2="620.50" stroke="#484848" stroke-width="1.15"/>
<line x1="47.20" y1="650.50" x2="99.20" y2="591.70" stroke="#8a8a8a" stroke-width="0.8"/>
<line x1="81.70" y1="671.50" x2="100.50" y2="631.00" stroke="#8a8a8a" stroke-width="0.8"/>
<line x1="73.20" y1="682.80" x2="97.00" y2="677.00" stroke="#8a8a8a" stroke-width="0.8"/>
<circle cx="25.2" cy="653.5" r="3.45" fill="url(#sp)" stroke="#6a6a6a" stroke-width="0.45"/>
<circle cx="30.2" cy="653.5" r="3.45" fill="url(#sp)" stroke="#6a6a6a" stroke-width="0.45"/>
<circle cx="38.5" cy="653.5" r="3.45" fill="url(#sp)" stroke="#6a6a6a" stroke-width="0.45"/>
<circle cx="44.2" cy="653.5" r="3.45" fill="url(#sp)" stroke="#6a6a6a" stroke-width="0.45"/>
<circle cx="50.4" cy="653.5" r="3.45" fill="url(#sp)" stroke="#6a6a6a" stroke-width="0.45"/>
<circle cx="57.3" cy="653.5" r="3.45" fill="url(#sp)" stroke="#6a6a6a" stroke-width="0.45"/>
<circle cx="66" cy="653.5" r="3.45" fill="url(#sp)" stroke="#6a6a6a" stroke-width="0.45"/>
<circle cx="70.8" cy="653.5" r="3.45" fill="url(#sp)" stroke="#6a6a6a" stroke-width="0.45"/>
<circle cx="76" cy="653.5" r="3.45" fill="url(#sp)" stroke="#6a6a6a" stroke-width="0.45"/>
<circle cx="26.9" cy="660.0" r="3.45" fill="url(#sp)" stroke="#6a6a6a" stroke-width="0.45"/>
<circle cx="35.8" cy="660.0" r="3.45" fill="url(#sp)" stroke="#6a6a6a" stroke-width="0.45"/>
<circle cx="44.2" cy="660.0" r="3.45" fill="url(#sp)" stroke="#6a6a6a" stroke-width="0.45"/>
<circle cx="52.9" cy="660.0" r="3.45" fill="url(#sp)" stroke="#6a6a6a" stroke-width="0.45"/>
<circle cx="61.2" cy="660.0" r="3.45" fill="url(#sp)" stroke="#6a6a6a" stroke-width="0.45"/>
<circle cx="65.4" cy="660.0" r="3.45" fill="url(#sp)" stroke="#6a6a6a" stroke-width="0.45"/>
<circle cx="72.7" cy="660.0" r="3.45" fill="url(#sp)" stroke="#6a6a6a" stroke-width="0.45"/>
<line x1="24.60" y1="663.40" x2="77.90" y2="663.40" stroke="#666" stroke-width="0.8"/>
<circle cx="30.4" cy="682.4" r="3.3" fill="url(#sp)" stroke="#6a6a6a" stroke-width="0.45"/>
<circle cx="50" cy="682.4" r="3.3" fill="url(#sp)" stroke="#6a6a6a" stroke-width="0.45"/>
<circle cx="70.2" cy="682.4" r="3.3" fill="url(#sp)" stroke="#6a6a6a" stroke-width="0.45"/>
<text transform="translate(100.20 579.50) scale(1.02 1.0)" font-size="10" text-anchor="start" fill="#000" stroke="#000" stroke-width="0.18">Seeded</text>
<text transform="translate(100.20 591.30) scale(1.02 1.0)" font-size="10" text-anchor="start" fill="#000" stroke="#000" stroke-width="0.18">macrophages</text>
<text transform="translate(100.20 620.20) scale(1.02 1.0)" font-size="10" text-anchor="start" fill="#000" stroke="#000" stroke-width="0.18">Culture</text>
<text transform="translate(100.20 632.90) scale(1.02 1.0)" font-size="10" text-anchor="start" fill="#000" stroke="#000" stroke-width="0.18">supernatant</text>
<text transform="translate(100.20 645.80) scale(1.02 1.0)" font-size="10" text-anchor="start" fill="#000" stroke="#000" stroke-width="0.18">from LEC</text>
<text transform="translate(100.20 682.00) scale(1.02 1.0)" font-size="10" text-anchor="start" fill="#000" stroke="#000" stroke-width="0.18">Migrated</text>
<text transform="translate(100.20 693.50) scale(1.02 1.0)" font-size="10" text-anchor="start" fill="#000" stroke="#000" stroke-width="0.18">macrophages</text>
<line x1="224.40" y1="600.60" x2="224.40" y2="688.70" stroke="#000" stroke-width="1.5"/>
<line x1="221.10" y1="688.00" x2="224.40" y2="688.00" stroke="#000" stroke-width="1.4"/>
<text transform="translate(216.60 691.70) scale(0.94 1.0)" font-size="10.8" text-anchor="end" fill="#000" stroke="#000" stroke-width="0.4">0</text>
<line x1="221.10" y1="670.80" x2="224.40" y2="670.80" stroke="#000" stroke-width="1.4"/>
<text transform="translate(216.60 674.50) scale(0.94 1.0)" font-size="10.8" text-anchor="end" fill="#000" stroke="#000" stroke-width="0.4">2</text>
<line x1="221.10" y1="653.30" x2="224.40" y2="653.30" stroke="#000" stroke-width="1.4"/>
<text transform="translate(216.60 657.00) scale(0.94 1.0)" font-size="10.8" text-anchor="end" fill="#000" stroke="#000" stroke-width="0.4">4</text>
<line x1="221.10" y1="635.80" x2="224.40" y2="635.80" stroke="#000" stroke-width="1.4"/>
<text transform="translate(216.60 639.50) scale(0.94 1.0)" font-size="10.8" text-anchor="end" fill="#000" stroke="#000" stroke-width="0.4">6</text>
<line x1="221.10" y1="618.60" x2="224.40" y2="618.60" stroke="#000" stroke-width="1.4"/>
<text transform="translate(216.60 622.30) scale(0.94 1.0)" font-size="10.8" text-anchor="end" fill="#000" stroke="#000" stroke-width="0.4">8</text>
<line x1="221.10" y1="601.30" x2="224.40" y2="601.30" stroke="#000" stroke-width="1.4"/>
<text transform="translate(216.60 605.00) scale(0.94 1.0)" font-size="10.8" text-anchor="end" fill="#000" stroke="#000" stroke-width="0.4">10</text>
<line x1="224.40" y1="688.00" x2="329.50" y2="688.00" stroke="#000" stroke-width="1.5"/>
<rect x="235.20" y="680.20" width="11.60" height="7.80" fill="#6b6b6b" stroke="#000" stroke-width="1.4"/>
<line x1="259.00" y1="672.00" x2="259.00" y2="673.90" stroke="#000" stroke-width="1.3"/>
<line x1="255.25" y1="672.00" x2="262.75" y2="672.00" stroke="#000" stroke-width="1.5"/>
<rect x="253.20" y="673.90" width="11.60" height="14.10" fill="#6b6b6b" stroke="#000" stroke-width="1.4"/>
<line x1="276.50" y1="644.00" x2="276.50" y2="647.00" stroke="#000" stroke-width="1.3"/>
<line x1="272.75" y1="644.00" x2="280.25" y2="644.00" stroke="#000" stroke-width="1.5"/>
<rect x="270.70" y="647.00" width="11.60" height="41.00" fill="#6b6b6b" stroke="#000" stroke-width="1.4"/>
<line x1="294.00" y1="625.00" x2="294.00" y2="629.50" stroke="#000" stroke-width="1.3"/>
<line x1="290.25" y1="625.00" x2="297.75" y2="625.00" stroke="#000" stroke-width="1.5"/>
<rect x="288.20" y="629.50" width="11.60" height="58.50" fill="#6b6b6b" stroke="#000" stroke-width="1.4"/>
<line x1="311.50" y1="609.00" x2="311.50" y2="612.50" stroke="#000" stroke-width="1.3"/>
<line x1="307.75" y1="609.00" x2="315.25" y2="609.00" stroke="#000" stroke-width="1.5"/>
<rect x="305.70" y="612.50" width="11.60" height="75.50" fill="#6b6b6b" stroke="#000" stroke-width="1.4"/>
<text transform="translate(201.20 644.70) rotate(-90)" font-size="12.5" text-anchor="middle" fill="#000" stroke="#000" stroke-width="0.2">%</text>
<text transform="translate(244.53 691.20) rotate(-90)" font-size="11.8" text-anchor="end" fill="#000" stroke="#000" stroke-width="0.4">0</text>
<text transform="translate(263.23 691.20) rotate(-90)" font-size="11.8" text-anchor="end" fill="#000" stroke="#000" stroke-width="0.4">5</text>
<text transform="translate(281.13 691.20) rotate(-90)" font-size="11.8" text-anchor="end" fill="#000" stroke="#000" stroke-width="0.4">50</text>
<text transform="translate(297.73 691.20) rotate(-90)" font-size="11.8" text-anchor="end" fill="#000" stroke="#000" stroke-width="0.4">500</text>
<text transform="translate(314.43 691.20) rotate(-90)" font-size="11.8" text-anchor="end" fill="#000" stroke="#000" stroke-width="0.4">5,000</text>
<text transform="translate(267.00 716.60)" font-size="12" text-anchor="middle" fill="#000" stroke="#000" stroke-width="0.2">ng/mL</text>
<line x1="388.30" y1="600.60" x2="388.30" y2="688.70" stroke="#000" stroke-width="1.5"/>
<line x1="385.00" y1="688.00" x2="388.30" y2="688.00" stroke="#000" stroke-width="1.4"/>
<text transform="translate(380.50 691.70) scale(0.94 1.0)" font-size="10.8" text-anchor="end" fill="#000" stroke="#000" stroke-width="0.4">0</text>
<line x1="385.00" y1="644.50" x2="388.30" y2="644.50" stroke="#000" stroke-width="1.4"/>
<text transform="translate(380.50 648.20) scale(0.94 1.0)" font-size="10.8" text-anchor="end" fill="#000" stroke="#000" stroke-width="0.4">5</text>
<line x1="385.00" y1="601.30" x2="388.30" y2="601.30" stroke="#000" stroke-width="1.4"/>
<text transform="translate(380.50 605.00) scale(0.94 1.0)" font-size="10.8" text-anchor="end" fill="#000" stroke="#000" stroke-width="0.4">10</text>
<line x1="388.30" y1="688.00" x2="493.70" y2="688.00" stroke="#000" stroke-width="1.5"/>
<rect x="394.50" y="679.50" width="10.60" height="8.50" fill="#fff" stroke="#000" stroke-width="1.4"/>
<line x1="411.90" y1="629.00" x2="411.90" y2="632.00" stroke="#000" stroke-width="1.3"/>
<line x1="408.15" y1="629.00" x2="415.65" y2="629.00" stroke="#000" stroke-width="1.5"/>
<rect x="406.50" y="632.00" width="10.80" height="56.00" fill="#333" stroke="#000" stroke-width="1.4"/>
<text transform="translate(411.90 632.50) scale(1.08 1.0)" font-size="20" text-anchor="middle" fill="#000" stroke="#000" stroke-width="0.4">*</text>
<rect x="429.40" y="682.70" width="10.50" height="5.30" fill="#fff" stroke="#000" stroke-width="1.4"/>
<line x1="446.70" y1="636.60" x2="446.70" y2="641.70" stroke="#000" stroke-width="1.3"/>
<line x1="442.95" y1="636.60" x2="450.45" y2="636.60" stroke="#000" stroke-width="1.5"/>
<rect x="441.30" y="641.70" width="10.80" height="46.30" fill="#333" stroke="#000" stroke-width="1.4"/>
<text transform="translate(446.70 640.10) scale(1.08 1.0)" font-size="20" text-anchor="middle" fill="#000" stroke="#000" stroke-width="0.4">*</text>
<rect x="464.50" y="682.00" width="10.60" height="6.00" fill="#fff" stroke="#000" stroke-width="1.4"/>
<line x1="481.90" y1="657.60" x2="481.90" y2="660.90" stroke="#000" stroke-width="1.3"/>
<line x1="478.15" y1="657.60" x2="485.65" y2="657.60" stroke="#000" stroke-width="1.5"/>
<rect x="476.50" y="660.90" width="10.80" height="27.10" fill="#333" stroke="#000" stroke-width="1.4"/>
<text transform="translate(481.90 661.10) scale(1.08 1.0)" font-size="20" text-anchor="middle" fill="#000" stroke="#000" stroke-width="0.4">*</text>
<text transform="translate(481.80 643.30)" font-size="14.6" text-anchor="middle" font-weight="bold" fill="#000">#</text>
<text transform="translate(366.00 644.80) rotate(-90)" font-size="12.5" text-anchor="middle" fill="#000" stroke="#000" stroke-width="0.2">%</text>
<rect x="470.90" y="600.90" width="16.40" height="8.00" fill="#fff" stroke="#aaa" stroke-width="1.0"/>
<rect x="470.90" y="615.30" width="16.40" height="8.00" fill="#333" stroke="#111" stroke-width="1.0"/>
<text transform="translate(491.10 608.00)" font-size="10.2" text-anchor="start" fill="#000" stroke="#000" stroke-width="0.2">LPS -</text>
<text transform="translate(491.10 621.40)" font-size="10.2" text-anchor="start" fill="#000" stroke="#000" stroke-width="0.2">LPS +</text>
<text transform="translate(407.90 701.30)" font-size="12.3" text-anchor="middle" fill="#000" stroke="#000" stroke-width="0.2">C</text>
<text transform="translate(445.25 701.30)" font-size="12.3" text-anchor="middle" fill="#000" stroke="#000" stroke-width="0.2">scT4</text>
<text transform="translate(479.50 701.30)" font-size="12.3" text-anchor="middle" fill="#000" stroke="#000" stroke-width="0.2">siT4</text></svg>
</body></html>
